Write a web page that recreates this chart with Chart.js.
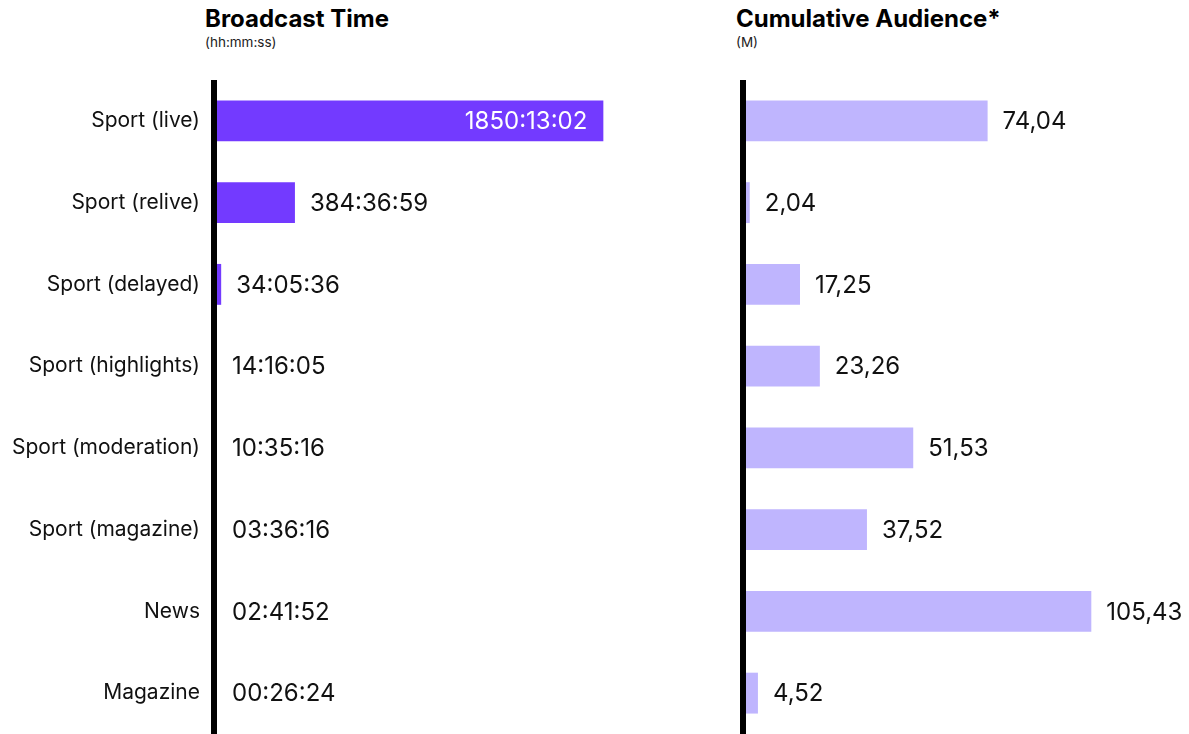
<!DOCTYPE html>
<html>
<head>
<meta charset="utf-8">
<script src="https://cdn.jsdelivr.net/npm/chart.js@4.4.1/dist/chart.umd.min.js"></script>
<style>
  html, body { margin: 0; padding: 0; background: #fff; }
  body { width: 1189px; height: 734px; position: relative; overflow: hidden; font-family: Inter, sans-serif; color: #000; }
  .title { position: absolute; font-weight: 700; font-size: 24px; line-height: 24px; white-space: nowrap; }
  .sub { position: absolute; font-size: 13.5px; line-height: 13.5px; color: #222; white-space: nowrap; }
  #left { position: absolute; left: 0; top: 0; width: 698px; height: 734px; }
  #right { position: absolute; left: 700px; top: 0; width: 489px; height: 734px; }
</style>
</head>
<body>
<div class="title" style="left:205px;top:7px">Broadcast Time</div>
<div class="sub" style="left:205px;top:36px">(hh:mm:ss)</div>
<div class="title" style="left:736px;top:7px">Cumulative Audience*</div>
<div class="sub" style="left:736px;top:36px">(M)</div>
<div id="left"><canvas id="timeChart"></canvas></div>
<div id="right"><canvas id="audienceChart"></canvas></div>
<script>
const categories = ["Sport (live)", "Sport (relive)", "Sport (delayed)", "Sport (highlights)", "Sport (moderation)", "Sport (magazine)", "News", "Magazine"]
// broadcast time in hours
const timeHours = [1850.217, 384.616, 34.093, 14.268, 10.588, 3.604, 2.698, 0.44]
const timeLabels = ["1850:13:02", "384:36:59", "34:05:36", "14:16:05", "10:35:16", "03:36:16", "02:41:52", "00:26:24"]
// cumulative audience in millions
const audience = [74.04, 2.04, 17.25, 23.26, 51.53, 37.52, 105.43, 4.52]
const audienceLabels = ["74,04", "2,04", "17,25", "23,26", "51,53", "37,52", "105,43", "4,52"]

// value labels + the thick zero line drawn over the bars
const valueLabels = {
  id: 'valueLabels',
  afterDatasetsDraw(chart, args, opts) {
    const ctx = chart.ctx
    const bars = chart.getDatasetMeta(0).data
    const zero = chart.scales.x.getPixelForValue(0)
    ctx.save()
    ctx.fillStyle = '#000'
    ctx.fillRect(zero - 3, chart.chartArea.top, 6, chart.chartArea.bottom - chart.chartArea.top)
    ctx.font = '24px Inter'
    ctx.textBaseline = 'middle'
    bars.forEach((bar, i) => {
      const text = opts.labels[i]
      if (opts.inside && bar.x - bar.base > 150) {
        ctx.fillStyle = '#fff'
        ctx.textAlign = 'right'
        ctx.fillText(text, bar.x - 16, bar.y + 1)
      } else {
        ctx.fillStyle = '#111'
        ctx.textAlign = 'left'
        ctx.fillText(text, Math.max(bar.x, bar.base + 3) + 15, bar.y + 1)
      }
    })
    ctx.restore()
  }
}

function makeChart(id, values, labels, color, max, axisWidth, showTicks, inside) {
  return new Chart(document.getElementById(id), {
    type: 'bar',
    data: {
      labels: categories,
      datasets: [{
        data: values,
        backgroundColor: color,
        borderWidth: 0,
        categoryPercentage: 1,
        barPercentage: 0.5
      }]
    },
    options: {
      indexAxis: 'y',
      responsive: true,
      maintainAspectRatio: false,
      animation: false,
      layout: { padding: { top: 80, left: 0, right: 0, bottom: 0 } },
      plugins: {
        legend: { display: false },
        tooltip: { enabled: false },
        valueLabels: { labels: labels, inside: inside }
      },
      scales: {
        x: { display: false, min: 0, max: max },
        y: {
          afterFit(scale) {
            scale.width = axisWidth
            scale.paddingTop = 0
            scale.paddingBottom = 0
          },
          grid: { display: false, drawTicks: false },
          border: { display: false },
          ticks: {
            display: showTicks,
            padding: 14,
            color: '#111',
            font: { family: 'Inter', size: 21 }
          }
        }
      }
    },
    plugins: [valueLabels]
  })
}

makeChart('timeChart', timeHours, timeLabels, '#733AFF', 2300, 214, true, true)
makeChart('audienceChart', audience, audienceLabels, '#BFB5FE', 135, 43, false, false)
</script>
</body>
</html>
